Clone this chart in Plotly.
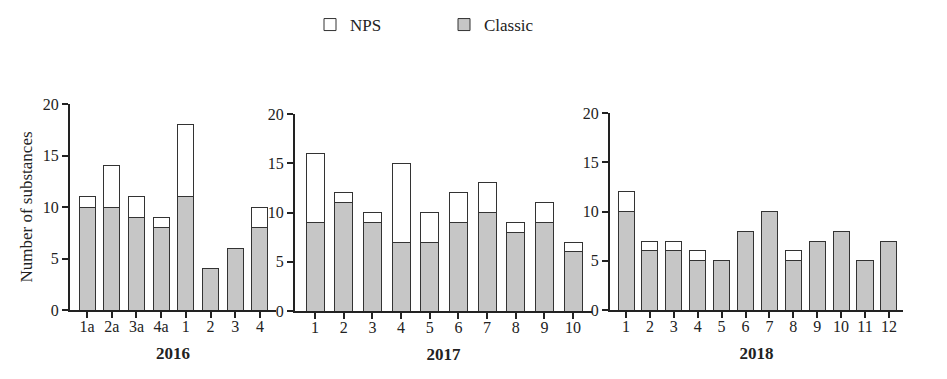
import plotly.graph_objects as go

# ---- data ----
cats_2016 = ["1a", "2a", "3a", "4a", "1", "2", "3", "4"]
classic_2016 = [10, 10, 9, 8, 11, 4, 6, 8]
nps_2016 = [1, 4, 2, 1, 7, 0, 0, 2]

cats_2017 = ["1", "2", "3", "4", "5", "6", "7", "8", "9", "10"]
classic_2017 = [9, 11, 9, 7, 7, 9, 10, 8, 9, 6]
nps_2017 = [7, 1, 1, 8, 3, 3, 3, 1, 2, 1]

cats_2018 = ["1", "2", "3", "4", "5", "6", "7", "8", "9", "10", "11", "12"]
classic_2018 = [10, 6, 6, 5, 5, 8, 10, 5, 7, 8, 5, 7]
nps_2018 = [2, 1, 1, 1, 0, 0, 0, 1, 0, 0, 0, 0]

years = ["2016", "2017", "2018"]
y_ticks = [0, 5, 10, 15, 20]

W, H = 947, 379
FONT = "Liberation Serif"
GRAY = "#c6c6c6"
EDGE = "#333333"
AX = "#222222"

fig = go.Figure()

panels = [
    # cats, classic, nps, x-domain px, y px (zero, top), x range, bar width
    (cats_2016, classic_2016, nps_2016, (70, 276), (310, 104), (-0.69, 7.65), 0.65),
    (cats_2017, classic_2017, nps_2017, (295, 592), (311, 114), (-0.70, 9.66), 0.63),
    (cats_2018, classic_2018, nps_2018, (610, 903), (310, 113), (-0.67, 11.59), 0.67),
]

for i, (cats, cl, nps, xd, yd, xr, bw) in enumerate(panels):
    xa = "x" if i == 0 else f"x{i+1}"
    ya = "y" if i == 0 else f"y{i+1}"
    fig.add_trace(go.Bar(
        x=cats, y=cl, name="Classic", xaxis=xa, yaxis=ya, width=bw,
        marker=dict(color=GRAY, line=dict(color=EDGE, width=1)),
        showlegend=(i == 0), legendrank=2, legendgroup="c",
    ))
    fig.add_trace(go.Bar(
        x=cats, y=nps, name="NPS", xaxis=xa, yaxis=ya, width=bw,
        marker=dict(color="white", line=dict(color=EDGE, width=1)),
        showlegend=(i == 0), legendrank=1, legendgroup="n",
    ))
    key = "" if i == 0 else str(i + 1)
    fig.update_layout(**{
        f"xaxis{key}": dict(
            domain=[xd[0] / W, xd[1] / W], anchor=ya, type="category",
            range=list(xr), showline=True, linecolor=AX, linewidth=2,
            ticks="outside", ticklen=6, tickwidth=1.5, tickcolor=AX,
            ticklabelstandoff=-5,
            showgrid=False, zeroline=False, automargin=False,
            tickfont=dict(family=FONT, size=16, color="#222"),
            title=dict(text=f"<b>{years[i]}</b>", standoff=13,
                       font=dict(family=FONT, size=17, color="#222")),
        ),
        f"yaxis{key}": dict(
            domain=[1 - yd[0] / H, 1 - yd[1] / H], anchor=xa,
            range=[0, 20], tickvals=y_ticks, showline=True, linecolor=AX,
            linewidth=2, ticks="outside", ticklen=6, tickwidth=1.5,
            tickcolor=AX, showgrid=False, zeroline=False, automargin=False,
            tickfont=dict(family=FONT, size=16, color="#222"),
            title=dict(text="Number of substances" if i == 0 else "",
                       standoff=6, font=dict(family=FONT, size=17, color="#222")),
        ),
    })

fig.update_layout(
    width=W, height=H, barmode="stack",
    margin=dict(l=0, r=0, t=0, b=0, autoexpand=False),
    paper_bgcolor="white", plot_bgcolor="white",
    font=dict(family=FONT, color="#222"),
    legend=dict(orientation="h", x=310 / W, xanchor="left", y=1 - 25 / H,
                yanchor="middle", entrywidth=89, entrywidthmode="pixels",
                font=dict(family=FONT, size=17, color="#222"),
                bgcolor="rgba(0,0,0,0)"),
)

fig.write_html("out.html", config={"displayModeBar": False},
               post_script="document.body.style.margin='0';")
